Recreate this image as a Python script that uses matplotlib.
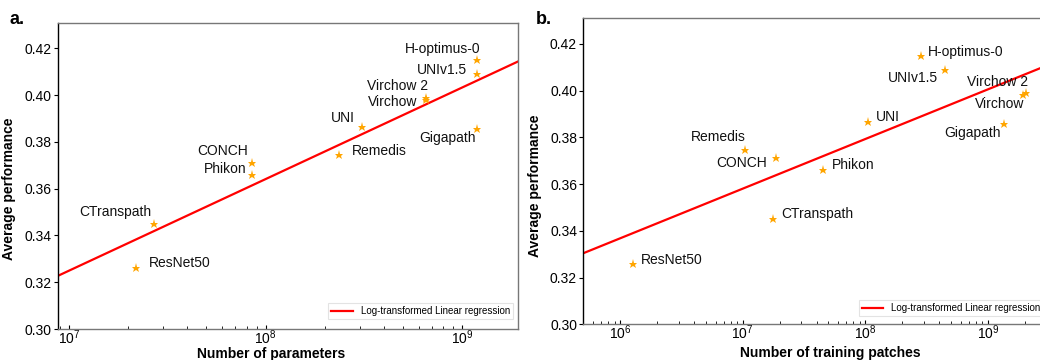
import numpy as np
import matplotlib
matplotlib.use("Agg")
import matplotlib.pyplot as plt

plt.rcParams['font.family'] = ['Liberation Sans', 'DejaVu Sans']
plt.rcParams['mathtext.fontset'] = 'custom'
plt.rcParams['mathtext.rm'] = 'Liberation Sans'

models = ["H-optimus-0", "UNIv1.5", "Virchow 2", "Virchow", "UNI", "Gigapath",
          "Remedis", "CONCH", "Phikon", "CTranspath", "ResNet50"]
performance = [0.415, 0.409, 0.399, 0.398, 0.3865, 0.3857,
               0.3745, 0.371, 0.366, 0.345, 0.326]
n_parameters = [1.18e9, 1.18e9, 6.5e8, 6.5e8, 3.1e8, 1.18e9,
                2.35e8, 8.55e7, 8.55e7, 2.7e7, 2.2e7]
n_patches = [2.86e8, 4.5e8, 2.06e9, 1.94e9, 1.05e8, 1.35e9,
             1.05e7, 1.86e7, 4.5e7, 1.77e7, 1.26e6]

# label placement (ha, dx px, dy px)
labels_a = {
    "H-optimus-0": ("right", 4, 11), "UNIv1.5": ("right", -10, 4),
    "Virchow 2": ("right", 3, 12), "Virchow": ("right", -8, -2),
    "UNI": ("right", -7, 9), "Remedis": ("left", 13, 4),
    "Gigapath": ("right", -1, -9), "CONCH": ("right", -4, 12),
    "Phikon": ("right", -6, 6), "CTranspath": ("right", -2, 12),
    "ResNet50": ("left", 13, 5),
}
labels_b = {
    "H-optimus-0": ("left", 7, 4), "UNIv1.5": ("right", -7, -8),
    "Virchow 2": ("right", 2, 11), "Virchow": ("right", 1, -9),
    "UNI": ("left", 8, 5), "Gigapath": ("right", -3, -9),
    "Remedis": ("right", 0, 13), "CONCH": ("right", -9, -5),
    "Phikon": ("left", 9, 5), "CTranspath": ("left", 8, 5),
    "ResNet50": ("left", 8, 4),
}

fig = plt.figure(figsize=(10.4, 3.6), dpi=100)
ax_a = fig.add_axes([0.0553, 0.0861, 0.4425, 0.8508])
ax_b = fig.add_axes([0.5609, 0.0992, 0.4468, 0.8500])


def draw(ax, xs, labels, xlim, xlabel, xl_coords, yl_coords, leg_anchor):
    ax.set_xscale('log')
    ax.set_xlim(*xlim)
    ax.set_ylim(0.30, 0.431)
    xs = np.array(xs)
    ys = np.array(performance)
    coef = np.polyfit(np.log10(xs), ys, 1)
    xx = np.logspace(np.log10(xlim[0]), np.log10(xlim[1]), 200)
    ax.plot(xx, np.polyval(coef, np.log10(xx)), color='#ff0000', lw=1.6,
            label='Log-transformed Linear regression', zorder=2)
    ax.plot(xs, ys, linestyle='none', marker='*', markersize=6.5,
            color='#ffa500', markeredgewidth=0, zorder=3)
    for m, x, y in zip(models, xs, ys):
        ha, dx, dy = labels[m]
        ax.annotate(m, (x, y), xytext=(dx, dy), textcoords='offset pixels',
                    ha=ha, va='center', fontsize=10, color='#111111')
    ax.set_yticks([0.30, 0.32, 0.34, 0.36, 0.38, 0.40, 0.42])
    ax.set_yticklabels(['0.30', '0.32', '0.34', '0.36', '0.38', '0.40', '0.42'])
    ax.tick_params(axis='y', which='major', length=3, pad=1.5, labelsize=10, direction='out')
    ax.tick_params(axis='x', which='major', length=3, pad=-0.5, labelsize=10, direction='in')
    ax.tick_params(axis='x', which='minor', length=2, direction='in')
    ax.set_xlabel(xlabel, fontsize=10, fontweight='bold')
    ax.set_ylabel('Average performance', fontsize=10, fontweight='bold')
    ax.xaxis.set_label_coords(*xl_coords)
    ax.yaxis.set_label_coords(*yl_coords)
    for side in ['top', 'right', 'bottom']:
        ax.spines[side].set_color('#777777')
        ax.spines[side].set_linewidth(1.0)
    ax.spines['left'].set_color('#000000')
    ax.spines['left'].set_linewidth(1.0)
    leg = ax.legend(loc='lower right', bbox_to_anchor=leg_anchor, fontsize=7,
                    handlelength=2.2, borderpad=0.3, borderaxespad=0.0,
                    frameon=True, fancybox=False)
    leg.get_frame().set_edgecolor('#dddddd')
    leg.get_frame().set_linewidth(0.8)


draw(ax_a, n_parameters, labels_a, (8.75e6, 1.91e9), 'Number of parameters',
     (0.464, -0.058), (-0.09, 0.457), (1 - 5 / 460, 10 / 306))
draw(ax_b, n_patches, labels_b, (5.0e5, 3.1e9), 'Number of training patches',
     (0.531, -0.071), (-0.088, 0.452), (1 - 5 / 465, 8 / 306))

fig.text(10 / 1040, 1 - 20 / 360, 'a.', fontsize=13, fontweight='bold', ha='left', va='center')
fig.text(536 / 1040, 1 - 19 / 360, 'b.', fontsize=13, fontweight='bold', ha='left', va='center')

fig.savefig('out.png', dpi=100)
